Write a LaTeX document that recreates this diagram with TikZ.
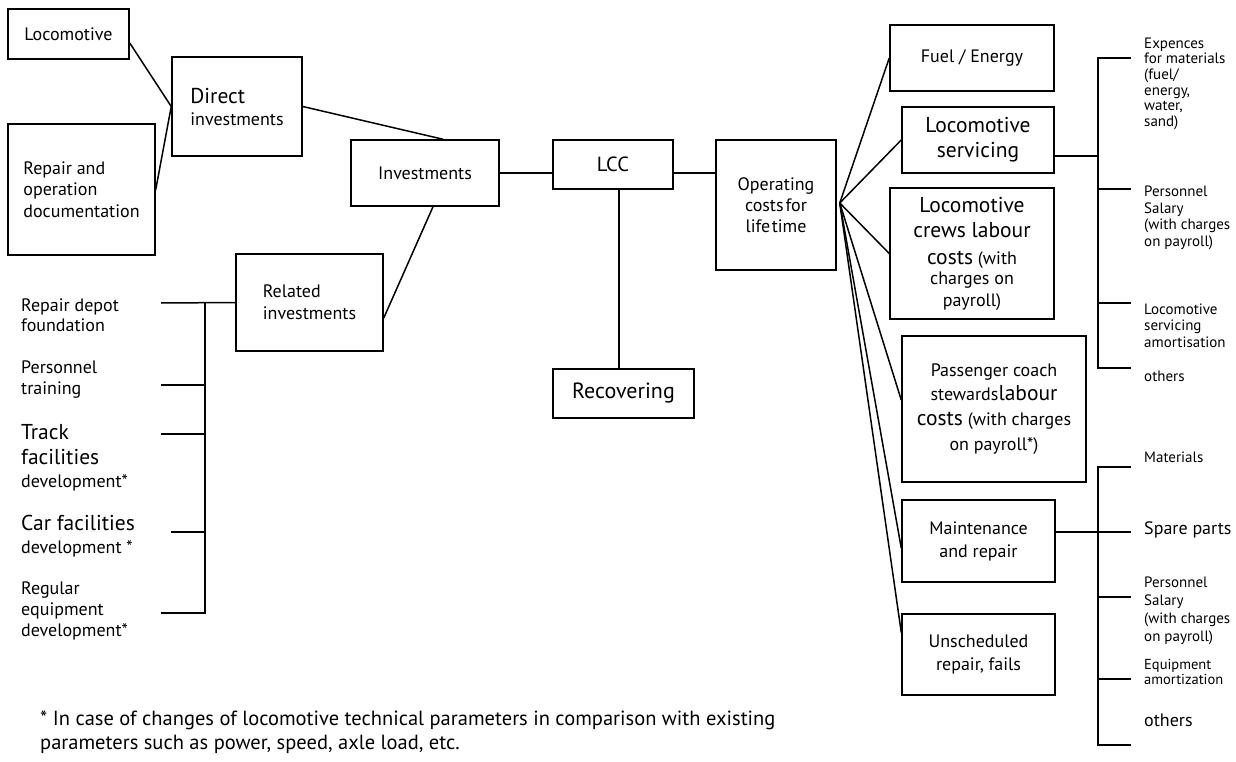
\documentclass[tikz,border=0pt]{standalone}
\usepackage{fontspec}
\setmainfont{PT Sans}
\newcommand\fsz[2]{\fontsize{#1}{#2}\selectfont}
\newcommand\bigtxt{\fsz{21.5}{25}}
\tikzset{
  box/.style={draw, line width=1.5pt, rectangle, inner sep=0pt, align=center, font=\fsz{18}{22}},
  wire/.style={line width=1.5pt},
  lbl/.style={inner sep=0pt, anchor=north west, align=left, font=\fsz{18}{21}},
  sml/.style={inner sep=0pt, anchor=north west, align=left, font=\fsz{15}{16.5}},
}
\begin{document}
\begin{tikzpicture}[x=1pt,y=-1pt]
\useasboundingbox (0,0) rectangle (1236,762);
\fill[white] (0,0) rectangle (1236,762);

% ---- investment side ----
\node[box, minimum width=121pt, minimum height=50pt] (loco) at (68.5,34) {Locomotive};
\node[box, minimum width=130pt, minimum height=99pt, align=left] (direct) at (237,106.5) {{\fsz{21.5}{25}Direct}\\investments};
\node[box, minimum width=147pt, minimum height=131pt, align=left, font=\fsz{18}{21.5}] (repdoc) at (81.5,189.5) {Repair and\\operation\\documentation};
\node[box, minimum width=148pt, minimum height=66pt] (inv) at (425,173) {Investments};
\node[box, minimum width=147pt, minimum height=97pt, align=left] (rel) at (309.5,302.5) {Related\\investments};
\node[box, minimum width=120pt, minimum height=49pt] (lcc) at (613,164.5) {\fsz{20.5}{24}LCC};
\node[box, minimum width=141pt, minimum height=49pt] (rec) at (623.5,393.5) {\fsz{22}{26}Recovering};

% ---- operating side ----
\node[box, minimum width=120pt, minimum height=130pt, font=\fsz{18}{21}] (op) at (776,205) {Operating\\costs\hspace{2pt}for\\life\hspace{1.5pt}time};
\node[box, minimum width=164pt, minimum height=66pt] (fuel) at (972,58) {Fuel / Energy};
\node[box, minimum width=152pt, minimum height=66pt, font=\fsz{21.5}{25}] (serv) at (978,140) {Locomotive\\servicing};
\node[box, minimum width=164pt, minimum height=131pt] (crews) at (972,253.5)
  {{\bigtxt Locomotive}\\[3pt]{\bigtxt crews labour}\\[5pt]{\bigtxt costs} (with\\[-2pt]charges on\\payroll)};
\node[box, minimum width=184pt, minimum height=146pt] (pass) at (994,409)
  {Passenger coach\\[2pt]stewards{\bigtxt labour}\\[3pt]{\bigtxt costs} (with charges\\[3pt]on payroll*)};
\node[box, minimum width=153pt, minimum height=82pt] (maint) at (978.5,541) {Maintenance\\[1pt]and repair};
\node[box, minimum width=153pt, minimum height=81pt] (unsch) at (978.5,654.5) {Unscheduled\\[1pt]repair, fails};

% ---- connectors between boxes ----
\draw[wire] ([yshift=-9pt]loco.east) -- (direct.west);
\draw[wire] (repdoc.east) -- (direct.west);
\draw[wire] (direct.east) -- ([xshift=18pt]inv.north);
\draw[wire] ([yshift=-15.5pt]rel.east) -- ([xshift=8pt]inv.south);
\draw[wire] (inv.east) -- (inv.east -| lcc.west);
\draw[wire] (inv.east -| lcc.east) -- (inv.east -| op.west);
\draw[wire] ([xshift=6pt]lcc.south) -- ([xshift=6pt]lcc.south |- rec.north);

\coordinate (fan) at ([xshift=3pt,yshift=2pt]op.east);
\foreach \t/\s in {fuel/0, serv/0, crews/0, pass/9, maint/-7, unsch/22}
  \draw[wire] (fan) -- ([yshift=\s pt]\t.west);

% ---- bracket of locomotive servicing costs ----
\draw[wire] ([yshift=-16pt]serv.east) -- (1098,156);
\draw[wire] (1131,58) -- (1098,58) -- (1098,368) -- (1131,368);
\foreach \y in {189,303} \draw[wire] (1098,\y) -- (1131,\y);
\node[sml, font=\fsz{15}{15.7}] (e1) at (1144,37.5) {Expences\\for materials\\(fuel/\\energy,\\water,\\sand)};
\node[sml, font=\fsz{15}{16.7}] (e2) at (1144,185.5) {Personnel\\Salary\\(with charges\\on payroll)};
\node[sml] (e3) at (1144,303.5) {Locomotive\\servicing\\amortisation};
\node[sml] (e4) at (1144,370.5) {others};

% ---- bracket of maintenance costs ----
\draw[wire] ([yshift=9pt]maint.east) -- (1098,532);
\draw[wire] (1131,467) -- (1098,467) -- (1098,745) -- (1131,745);
\foreach \y in {532,597,679} \draw[wire] (1098,\y) -- (1131,\y);
\node[sml] (m1) at (1144,451.5) {Materials};
\node[lbl] (m2) at (1144,521.5) {Spare parts};
\node[sml, font=\fsz{15}{17.8}] (m3) at (1144,577) {Personnel\\Salary\\(with charges\\on payroll)};
\node[sml, font=\fsz{14.5}{15.5}] (m4) at (1144,659) {Equipment\\amortization};
\node[lbl] (m5) at (1144,713.5) {others};

% ---- bracket of related investments ----
\draw[wire] (161,303) -- (rel.west);
\draw[wire] (161,613) -- (205,613) -- (205,303);
\draw[wire] (161,385) -- (205,385);
\draw[wire] (161,434) -- (205,434);
\draw[wire] (171,532) -- (205,532);
\node[lbl, font=\fsz{18}{20}] (r1) at (21,298.5) {Repair depot\\foundation};
\node[lbl] (r2) at (21,360.5) {Personnel\\training};
\node[lbl] (r3) at (21,424) {{\bigtxt Track}\\[4pt]{\bigtxt facilities}\\[2pt]development*};
\node[lbl] (r4) at (21,515) {{\bigtxt Car facilities}\\[2pt]development *};
\node[lbl] (r5) at (21,581.5) {Regular\\equipment\\development*};

% ---- footnote ----
\node[lbl, font=\fsz{20.5}{24}] (note) at (40,710.5)
  {* In case of changes of locomotive technical parameters in comparison with existing\\parameters such as power, speed, axle load, etc.};
\end{tikzpicture}
\end{document}
